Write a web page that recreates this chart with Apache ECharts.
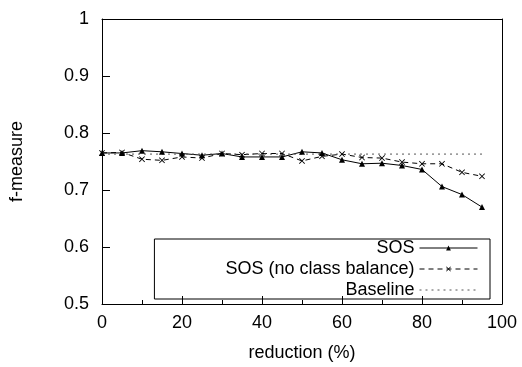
<!DOCTYPE html>
<html>
<head>
<meta charset="utf-8">
<script src="https://cdn.jsdelivr.net/npm/echarts@6/dist/echarts.min.js"></script>
<style>
  html, body { margin: 0; padding: 0; background: #fff; }
  #chart { width: 522px; height: 367px; }
</style>
</head>
<body>
<div id="chart"></div>
<script>
// reduction (%) on the x axis
const reduction = [0, 5, 10, 15, 20, 25, 30, 35, 40, 45, 50, 55, 60, 65, 70, 75, 80, 85, 90, 95];
// f-measure values
const sos =        [0.765, 0.765, 0.769, 0.767, 0.764, 0.761, 0.764, 0.758, 0.758, 0.758, 0.767, 0.765, 0.753, 0.746, 0.747, 0.743, 0.736, 0.706, 0.692, 0.670];
const sosNoBal =   [0.765, 0.766, 0.754, 0.752, 0.758, 0.756, 0.764, 0.762, 0.764, 0.764, 0.751, 0.759, 0.763, 0.757, 0.756, 0.749, 0.746, 0.746, 0.731, 0.724];
const baseline =   [0.763, 0.763, 0.763, 0.763, 0.763, 0.763, 0.763, 0.763, 0.763, 0.763, 0.763, 0.763, 0.763, 0.763, 0.763, 0.763, 0.763, 0.763, 0.763, 0.763];

const FONT = 'Liberation Sans';
const crossPath = 'path://M0,1 L1,0 L5,4 L9,0 L10,1 L6,5 L10,9 L9,10 L5,6 L1,10 L0,9 L4,5Z';

const chart = echarts.init(document.getElementById('chart'));

const pairs = arr => reduction.map((x, i) => [x, arr[i]]);

// box lines only, no ticks (top / right)
const frameAxis = {
    axisLine: { show: true, onZero: false, lineStyle: { color: '#000', width: 1 } },
    axisTick: { show: false },
    axisLabel: { show: false },
    splitLine: { show: false }
};

chart.setOption({
    animation: false,
    textStyle: { fontFamily: FONT },
    grid: { left: 100, right: 20, top: 19, bottom: 61 },
    legend: {
        orient: 'vertical',
        right: 32,
        top: 239,
        align: 'right',
        itemWidth: 58,
        itemHeight: 6,
        itemGap: 3,
        padding: [0, 12, 0, 71],
        borderColor: '#000',
        borderWidth: 1,
        borderRadius: 0,
        selectedMode: false,
        lineStyle: { width: 1 },
        textStyle: { fontSize: 18, color: '#000', align: 'right', fontFamily: FONT },
        data: [
            'SOS',
            'SOS (no class balance)',
            { name: 'Baseline', itemStyle: { opacity: 0 } }
        ]
    },
    xAxis: [{
        type: 'value',
        min: 0, max: 100, interval: 20,
        name: 'reduction (%)',
        nameLocation: 'middle',
        nameGap: 40,
        nameTextStyle: { fontSize: 18, color: '#000' },
        axisLine: { onZero: false, lineStyle: { color: '#000', width: 1 } },
        axisTick: { inside: true, length: 8, lineStyle: { color: '#000' } },
        minorTick: { show: true, splitNumber: 2, length: 4, lineStyle: { color: '#000' } },
        axisLabel: { fontSize: 18, color: '#000', margin: 10 },
        splitLine: { show: false }
    }, Object.assign({ type: 'value', position: 'top', min: 0, max: 100 }, frameAxis)],
    yAxis: [{
        type: 'value',
        min: 0.5, max: 1, interval: 0.1,
        name: 'f-measure',
        nameLocation: 'middle',
        nameGap: 76,
        nameTextStyle: { fontSize: 18, color: '#000' },
        axisLine: { show: true, onZero: false, lineStyle: { color: '#000', width: 1 } },
        axisTick: { show: true, inside: true, length: 8, lineStyle: { color: '#000' } },
        axisLabel: {
            fontSize: 18, color: '#000', margin: 13,
            formatter: v => (Math.abs(v - 1) < 1e-9 ? '1' : v.toFixed(1))
        },
        splitLine: { show: false }
    }, Object.assign({ type: 'value', position: 'right', min: 0.5, max: 1 }, frameAxis)],
    series: [
        {
            name: 'SOS',
            type: 'line',
            data: pairs(sos),
            symbol: 'triangle',
            symbolSize: 6,
            itemStyle: { color: '#000' },
            lineStyle: { color: '#000', width: 1 }
        },
        {
            name: 'SOS (no class balance)',
            type: 'line',
            data: pairs(sosNoBal),
            symbol: crossPath,
            symbolSize: 6,
            itemStyle: { color: '#000' },
            lineStyle: { color: '#000', width: 1, type: [5, 4] }
        },
        {
            name: 'Baseline',
            type: 'line',
            data: pairs(baseline),
            symbol: 'none',
            itemStyle: { color: '#000' },
            lineStyle: { color: '#555', width: 1, type: [2, 4] }
        }
    ]
});
</script>
</body>
</html>
